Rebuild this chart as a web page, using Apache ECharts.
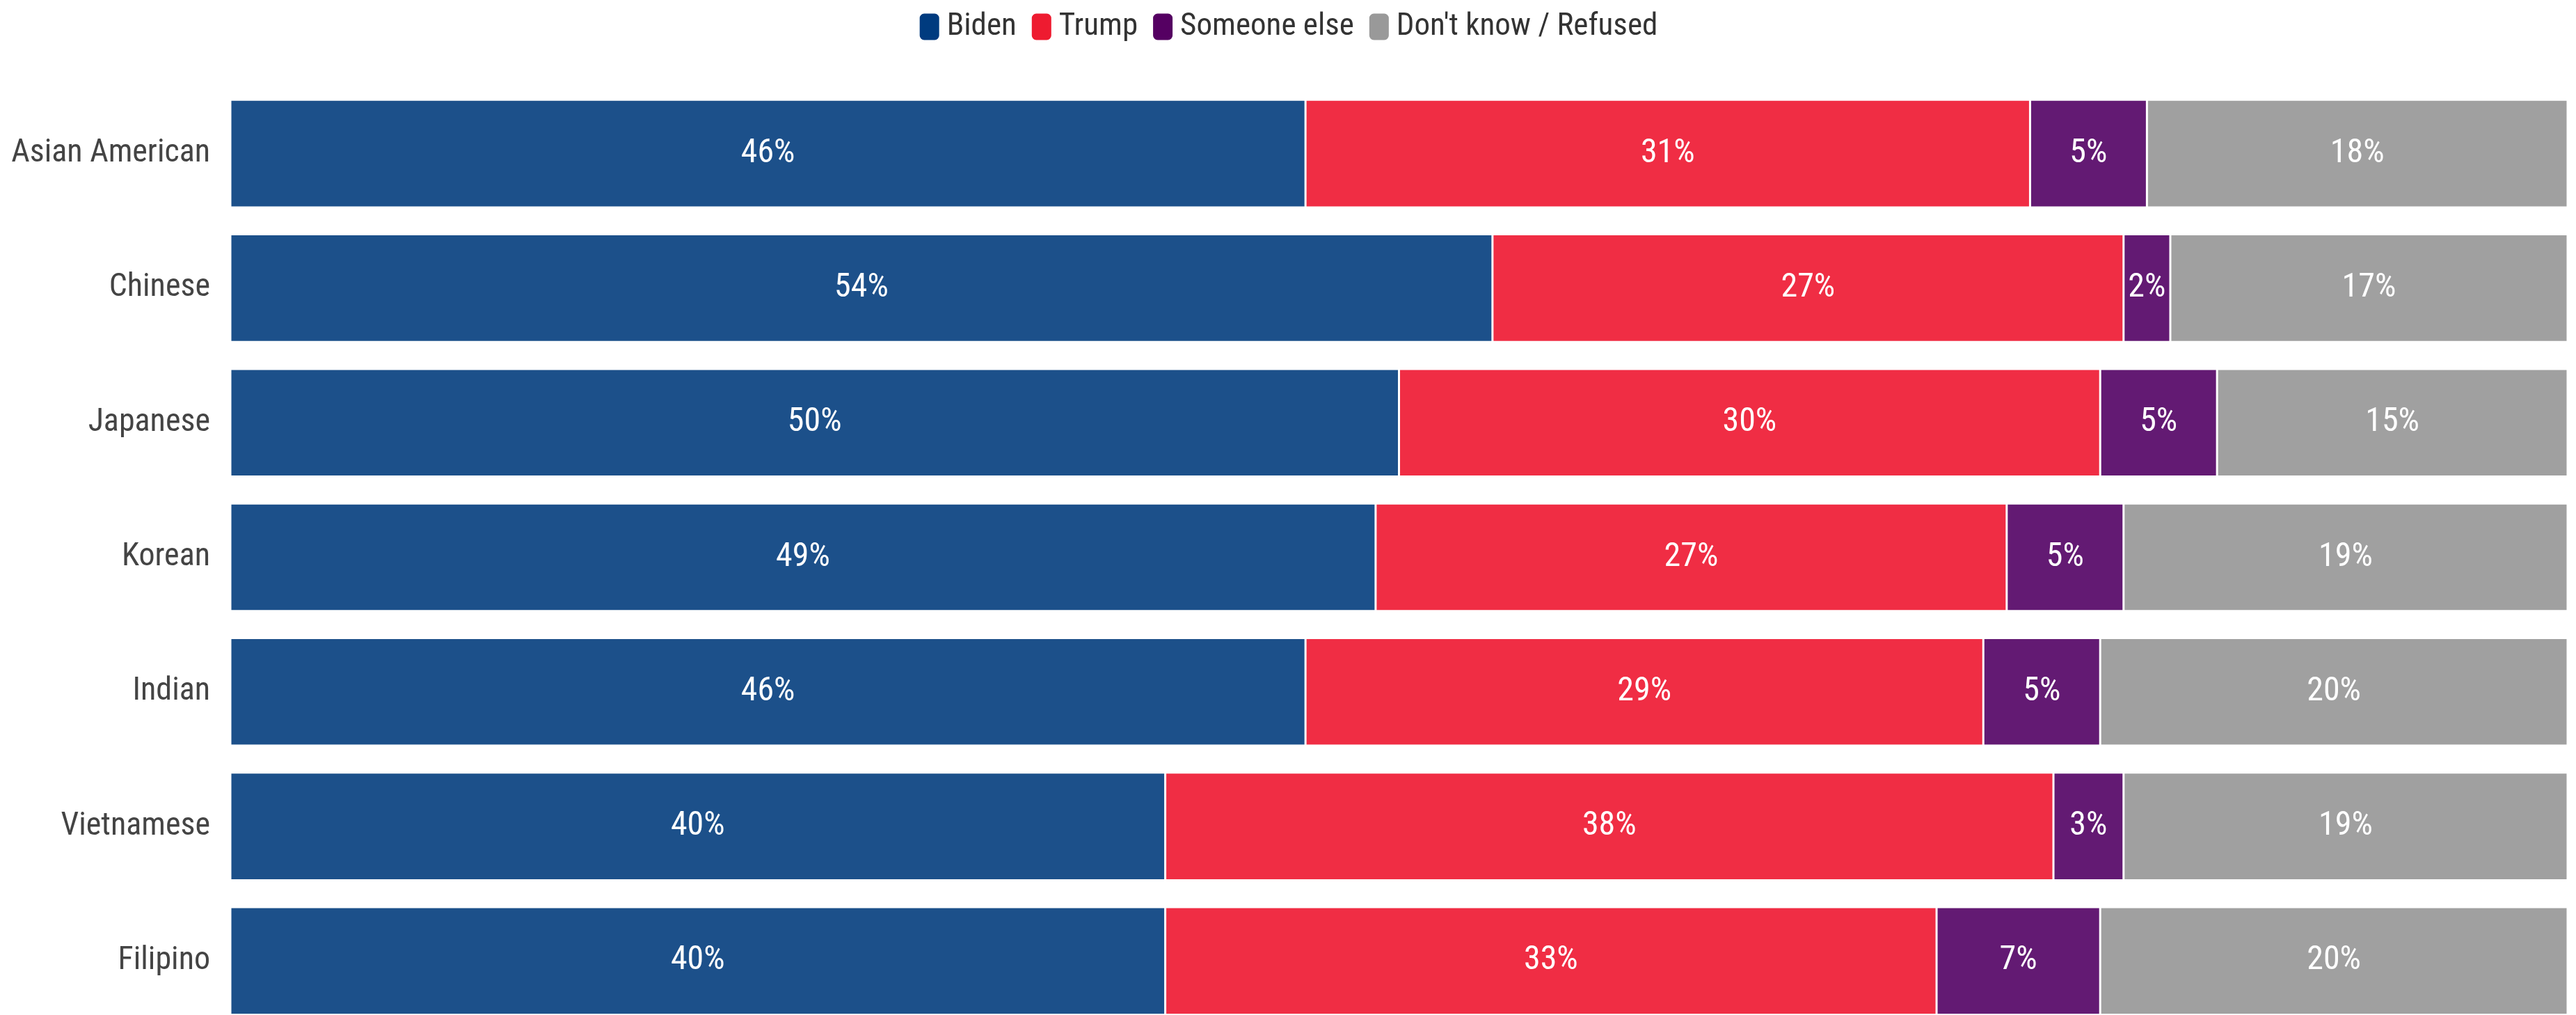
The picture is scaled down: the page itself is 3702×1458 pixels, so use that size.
<!DOCTYPE html>
<html>
<head>
<meta charset="utf-8">
<script src="https://cdn.jsdelivr.net/npm/echarts@6/dist/echarts.min.js"></script>
<style>
  html, body { margin: 0; padding: 0; background: #fff; overflow: hidden; }
  /* a bit taller than the window: the last row is cut by the bottom edge */
  #main { width: 3702px; height: 1477px; }
</style>
</head>
<body>
<div id="main"></div>
<script>
var groups = ['Asian American', 'Chinese', 'Japanese', 'Korean', 'Indian', 'Vietnamese', 'Filipino'];
var biden = [46, 54, 50, 49, 46, 40, 40];
var trump = [31, 27, 30, 27, 29, 38, 33];
var someoneElse = [5, 2, 5, 5, 5, 3, 7];
var dontKnow = [18, 17, 15, 19, 20, 19, 20];

var font = "'Roboto Condensed', 'Liberation Sans Narrow', 'DejaVu Sans Condensed', Roboto, sans-serif";

var chartDom = document.getElementById('main');
var myChart = echarts.init(chartDom);
var option;

// bar fill is the legend colour at 90% over white
function makeSeries(name, values, color) {
  return {
    name: name,
    type: 'bar',
    stack: 'total',
    data: values,
    barCategoryGap: '20%',
    itemStyle: {
      color: color,
      borderColor: '#fff',
      borderWidth: 1.5
    },
    label: {
      show: true,
      position: 'inside',
      formatter: '{c}%',
      color: '#fff',
      fontFamily: font,
      fontSize: 48
    },
    emphasis: { disabled: true }
  };
}

option = {
  animation: false,
  legend: {
    top: 11,
    left: 'center',
    itemWidth: 30,
    itemHeight: 40,
    itemGap: 20,
    icon: 'roundRect',
    textStyle: {
      fontFamily: font,
      fontSize: 45,
      color: '#333',
      padding: [0, 0, 0, 5]
    },
    data: [
      { name: 'Biden', itemStyle: { color: '#003b7f' } },
      { name: 'Trump', itemStyle: { color: '#ee1b30' } },
      { name: 'Someone else', itemStyle: { color: '#550062' } },
      { name: "Don't know / Refused", itemStyle: { color: '#999999' } }
    ]
  },
  grid: {
    left: 331,
    right: 12,
    top: 124,
    bottom: 0,
    containLabel: false
  },
  xAxis: {
    type: 'value',
    min: 0,
    max: 100,
    show: false
  },
  yAxis: {
    type: 'category',
    data: groups,
    inverse: true,
    axisLine: { show: false },
    axisTick: { show: false },
    axisLabel: {
      margin: 29,
      fontFamily: font,
      fontSize: 46,
      color: '#444'
    }
  },
  series: [
    makeSeries('Biden', biden, '#1c508a'),
    makeSeries('Trump', trump, '#f02d44'),
    makeSeries('Someone else', someoneElse, '#631a73'),
    makeSeries("Don't know / Refused", dontKnow, '#a0a0a0')
  ]
};

option && myChart.setOption(option);
</script>
</body>
</html>
